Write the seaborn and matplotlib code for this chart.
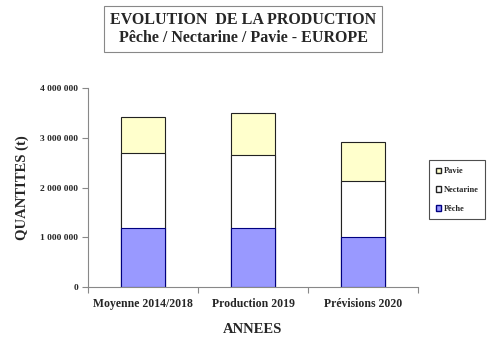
import numpy as np
import pandas as pd
import matplotlib
matplotlib.use("Agg")
import matplotlib.pyplot as plt
import matplotlib.ticker as mticker
from matplotlib.patches import Patch
import seaborn as sns

annees = ["Moyenne 2014/2018", "Production 2019", "Prévisions 2020"]
peche = [1190000, 1190000, 1000000]
nectarine = [1500000, 1460000, 1130000]
pavie = [730000, 850000, 780000]

sns.set_style("white")
plt.rcParams["font.family"] = ["Liberation Serif", "DejaVu Serif"]
plt.rcParams["font.weight"] = "bold"

df = pd.DataFrame({"annee": annees, "Pêche": peche, "Nectarine": nectarine, "Pavie": pavie})
df["c1"] = df["Pêche"]
df["c2"] = df["c1"] + df["Nectarine"]
df["c3"] = df["c2"] + df["Pavie"]

fig = plt.figure(figsize=(4.98, 3.53), dpi=100)
ax = fig.add_axes([88 / 498, 1 - 287 / 353, 330 / 498, 199 / 353])

sns.barplot(data=df, x="annee", y="c3", color="#FFFFCC", edgecolor="#222222",
            linewidth=0.8, width=0.4, saturation=1, ax=ax)
sns.barplot(data=df, x="annee", y="c2", color="#FFFFFF", edgecolor="#222222",
            linewidth=0.8, width=0.4, saturation=1, ax=ax)
sns.barplot(data=df, x="annee", y="c1", color="#9999FF", edgecolor="#000080",
            linewidth=0.8, width=0.4, saturation=1, ax=ax)

ax.set_ylim(0, 4000000)
ax.set_xlim(-0.5, 2.5)
ax.yaxis.set_major_locator(mticker.MultipleLocator(1000000))
ax.yaxis.set_major_formatter(mticker.FuncFormatter(
    lambda v, p: "0" if v == 0 else f"{int(v):,}".replace(",", " ")))
ax.set_xticks([-0.5, 0.5, 1.5, 2.5], minor=False)
ax.set_xticks([0, 1, 2], minor=True)
ax.set_xticklabels(["", "", "", ""])
ax.set_xticklabels(annees, minor=True, fontsize=8.5, fontweight="bold")
ax.tick_params(axis="x", which="minor", length=0, pad=8)
ax.tick_params(axis="x", which="major", length=4, color="#888888", direction="out")
ax.tick_params(axis="y", length=4, color="#888888", labelsize=6.8, direction="out", pad=3)
ax.tick_params(left=True, bottom=True)

for s in ["top", "right"]:
    ax.spines[s].set_visible(False)
for s in ["left", "bottom"]:
    ax.spines[s].set_color("#888888")
    ax.spines[s].set_linewidth(0.8)

ax.set_xlabel("ANNEES", fontsize=10.5, fontweight="bold", labelpad=9)
ax.set_ylabel("QUANTITES (t)", fontsize=10.5, fontweight="bold")
ax.yaxis.set_label_coords(-0.18, 0.5)

fig.text(243 / 498, 1 - 29 / 353,
         "EVOLUTION  DE LA PRODUCTION\nPêche / Nectarine / Pavie - EUROPE",
         ha="center", va="center", fontsize=11.5, fontweight="bold", linespacing=1.1,
         bbox=dict(boxstyle="square,pad=0.4", fc="white", ec="#888888", lw=0.8))

handles = [Patch(facecolor="#FFFFCC", edgecolor="#222222", label="Pavie"),
           Patch(facecolor="#FFFFFF", edgecolor="#222222", label="Nectarine"),
           Patch(facecolor="#9999FF", edgecolor="#000080", label="Pêche")]
leg = fig.legend(handles=handles, loc="center left", bbox_to_anchor=(425 / 498, 1 - 190 / 353),
                 fontsize=6, frameon=True, fancybox=False, edgecolor="#222222",
                 handlelength=0.6, handleheight=0.6, handletextpad=0.3,
                 labelspacing=1.3, borderpad=0.8)
leg.get_frame().set_linewidth(0.8)

fig.savefig("out.png", dpi=100)
